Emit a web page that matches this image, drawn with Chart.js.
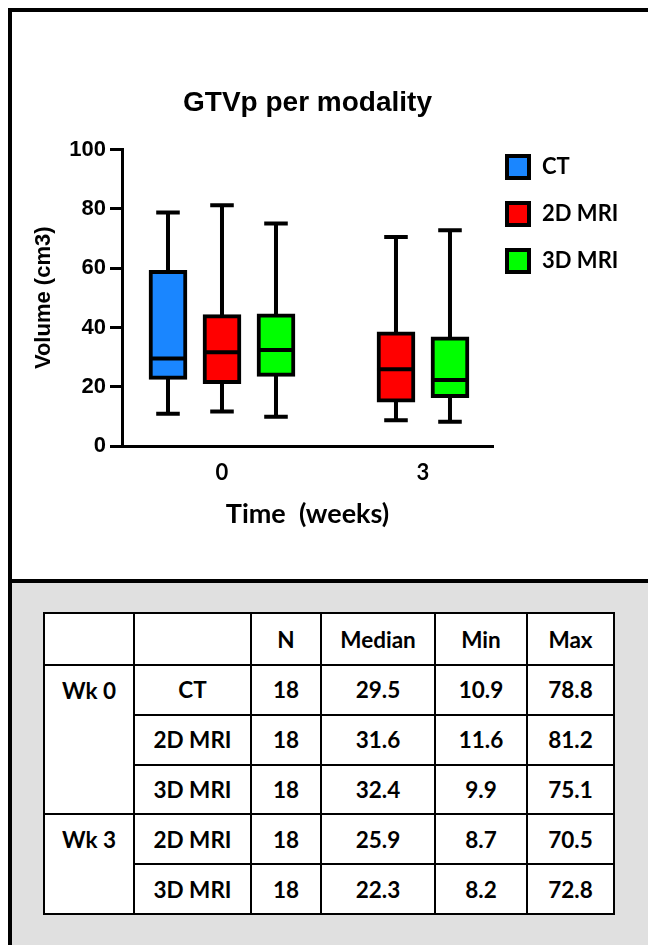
<!DOCTYPE html>
<html>
<head>
<meta charset="utf-8">
<script src="https://cdn.jsdelivr.net/npm/chart.js@4.4.1/dist/chart.umd.min.js"></script>
<style>
    body { margin: 0; width: 648px; height: 945px; position: relative; overflow: hidden; background: #fff; }
    #topPanel { position: absolute; left: 8px; top: 8px; width: 700px; height: 567px; border-left: 4px solid #000; border-top: 4px solid #000; background: #fff; }
    #bottomPanel { position: absolute; left: 8px; top: 579px; width: 700px; height: 400px; border-left: 4px solid #000; border-top: 4px solid #000; background: #e0e0e0; }
    #chart { position: absolute; left: 0; top: 0; }
    #statsTable { position: absolute; left: 43px; top: 612px; width: 570px; border-collapse: collapse; table-layout: fixed; background: #fff;
        font-family: Lato, 'Open Sans', sans-serif; font-weight: bold; font-size: 22.5px; color: #000; }
    #statsTable td { border: 2px solid #000; text-align: center; vertical-align: middle; padding: 0; }
    #statsTable tr { height: 49.8px; }
    #statsTable tr.head { height: 52px; }
    #statsTable td.week { vertical-align: top; padding-top: 11px; }
</style>
</head>
<body>
<div id="topPanel"></div>
<div id="bottomPanel"></div>
<canvas id="chart" width="648" height="578"></canvas>
<table id="statsTable">
    <colgroup>
        <col style="width:90px"><col style="width:117px"><col style="width:70px">
        <col style="width:114px"><col style="width:92px"><col style="width:87px">
    </colgroup>
    <tbody></tbody>
</table>
<script>
// Time points (weeks) and modalities
const weeks = [0, 3];
const modalities = ['CT', '2D MRI', '3D MRI'];
const boxColors = ['#1a86ff', '#ff0000', '#00ff00'];

// Values per modality, per week (null = not acquired)
const nCounts = [[18, null], [18, 18], [18, 18]];
const minVals = [[10.9, null], [11.6, 8.7], [9.9, 8.2]];
const q1Vals = [[22.5, null], [21.0, 14.8], [23.5, 16.3]];
const medianVals = [[29.5, null], [31.6, 25.9], [32.4, 22.3]];
const q3Vals = [[59.3, null], [44.3, 38.5], [44.6, 36.8]];
const maxVals = [[78.8, null], [81.2, 70.5], [75.1, 72.8]];

const yTicks = [0, 20, 40, 60, 80, 100];

// Whiskers behind the boxes, medians on top
const boxWhiskers = {
    id: 'boxWhiskers',
    beforeDatasetsDraw(chart) {
        const { ctx, scales: { y } } = chart;
        ctx.save();
        ctx.strokeStyle = '#000';
        ctx.lineWidth = 4;
        chart.data.datasets.forEach((ds, m) => {
            chart.getDatasetMeta(m).data.forEach((bar, i) => {
                if (minVals[m][i] === null) return;
                const capHalf = bar.width * 0.31;
                const yMin = y.getPixelForValue(minVals[m][i]);
                const yMax = y.getPixelForValue(maxVals[m][i]);
                ctx.beginPath();
                ctx.moveTo(bar.x, yMax);
                ctx.lineTo(bar.x, yMin);
                ctx.moveTo(bar.x - capHalf, yMax);
                ctx.lineTo(bar.x + capHalf, yMax);
                ctx.moveTo(bar.x - capHalf, yMin);
                ctx.lineTo(bar.x + capHalf, yMin);
                ctx.stroke();
            });
        });
        ctx.restore();
    },
    afterDatasetsDraw(chart) {
        const { ctx, scales: { y } } = chart;
        ctx.save();
        ctx.strokeStyle = '#000';
        ctx.lineWidth = 4;
        chart.data.datasets.forEach((ds, m) => {
            chart.getDatasetMeta(m).data.forEach((bar, i) => {
                if (medianVals[m][i] === null) return;
                const yMed = y.getPixelForValue(medianVals[m][i]);
                ctx.beginPath();
                ctx.moveTo(bar.x - bar.width / 2, yMed);
                ctx.lineTo(bar.x + bar.width / 2, yMed);
                ctx.stroke();
            });
        });
        ctx.restore();
    }
};

// Legend: framed squares to the right of the plot
const sideLegend = {
    id: 'sideLegend',
    afterDraw(chart) {
        const { ctx, chartArea } = chart;
        const left = chartArea.right + 12;
        ctx.save();
        ctx.font = 'bold 22px Lato, sans-serif';
        ctx.textBaseline = 'middle';
        chart.data.datasets.forEach((ds, m) => {
            const top = 154 + m * 47;
            ctx.fillStyle = ds.backgroundColor;
            ctx.fillRect(left, top, 26, 26);
            ctx.lineWidth = 4;
            ctx.strokeStyle = '#000';
            ctx.strokeRect(left + 2, top + 2, 22, 22);
            ctx.fillStyle = '#000';
            ctx.fillText(ds.label, left + 37, top + 13);
        });
        ctx.restore();
    }
};

const ctx = document.getElementById('chart').getContext('2d');

new Chart(ctx, {
    type: 'bar',
    data: {
        labels: weeks,
        datasets: modalities.map((name, m) => ({
            label: name,
            data: weeks.map((w, i) => q1Vals[m][i] === null ? null : [q1Vals[m][i], q3Vals[m][i]]),
            backgroundColor: boxColors[m],
            borderColor: '#000',
            borderWidth: 4,
            borderSkipped: false,
            barThickness: 54,
            maxBarThickness: 38,
            skipNull: true
        }))
    },
    options: {
        responsive: false,
        animation: false,
        layout: { padding: { top: 80, right: 155, bottom: 0, left: 0 } },
        plugins: {
            legend: { display: false },
            tooltip: { enabled: false },
            title: {
                display: true,
                fullSize: false,
                text: 'GTVp per modality',
                color: '#000',
                font: { family: "'Liberation Sans', Arial, sans-serif", size: 28, weight: 'bold' },
                padding: { top: 6, bottom: 30 }
            }
        },
        scales: {
            x: {
                type: 'linear',
                min: -1.4925,
                max: 4.045,
                offset: false,
                grid: { display: false, drawTicks: false },
                border: { display: true, color: '#000', width: 3 },
                afterBuildTicks: scale => { scale.ticks = weeks.map(v => ({ value: v })); },
                afterFit: scale => { scale.height = 132; },
                ticks: {
                    padding: 14,
                    color: '#000',
                    font: { family: 'Lato, sans-serif', size: 22, weight: 'bold' }
                },
                title: {
                    display: true,
                    text: 'Time  (weeks)',
                    color: '#000',
                    font: { family: 'Lato, sans-serif', size: 27, weight: 'bold' },
                    padding: { top: 0, bottom: 48 }
                }
            },
            y: {
                min: 0,
                max: 100,
                afterBuildTicks: scale => { scale.ticks = yTicks.map(v => ({ value: v })); },
                afterFit: scale => { scale.width = 122; },
                grid: { display: true, drawOnChartArea: false, drawTicks: true, tickLength: 12, lineWidth: 3, color: '#000' },
                border: { display: true, color: '#000', width: 3 },
                ticks: {
                    padding: 4,
                    color: '#000',
                    font: { family: "'Liberation Sans', Arial, sans-serif", size: 22, weight: 'bold' }
                },
                title: {
                    display: true,
                    text: 'Volume (cm3)',
                    color: '#000',
                    font: { family: "'Liberation Sans', Arial, sans-serif", size: 22, weight: 'bold' },
                    padding: { top: 31, bottom: 0 }
                }
            }
        }
    },
    plugins: [boxWhiskers, sideLegend]
});

// Summary table below the chart
const buildTable = () => {
    const tbody = document.querySelector('#statsTable tbody');
    let html = '<tr class="head"><td></td><td></td><td>N</td><td>Median</td><td>Min</td><td>Max</td></tr>';
    weeks.forEach((w, i) => {
        const present = modalities.map((name, m) => m).filter(m => medianVals[m][i] !== null);
        present.forEach((m, k) => {
            html += '<tr>';
            if (k === 0) html += `<td class="week" rowspan="${present.length}">Wk ${w}</td>`;
            html += `<td>${modalities[m]}</td><td>${nCounts[m][i]}</td><td>${medianVals[m][i].toFixed(1)}</td>`;
            html += `<td>${minVals[m][i].toFixed(1)}</td><td>${maxVals[m][i].toFixed(1)}</td></tr>`;
        });
    });
    tbody.innerHTML = html;
};

buildTable();
</script>
</body>
</html>
